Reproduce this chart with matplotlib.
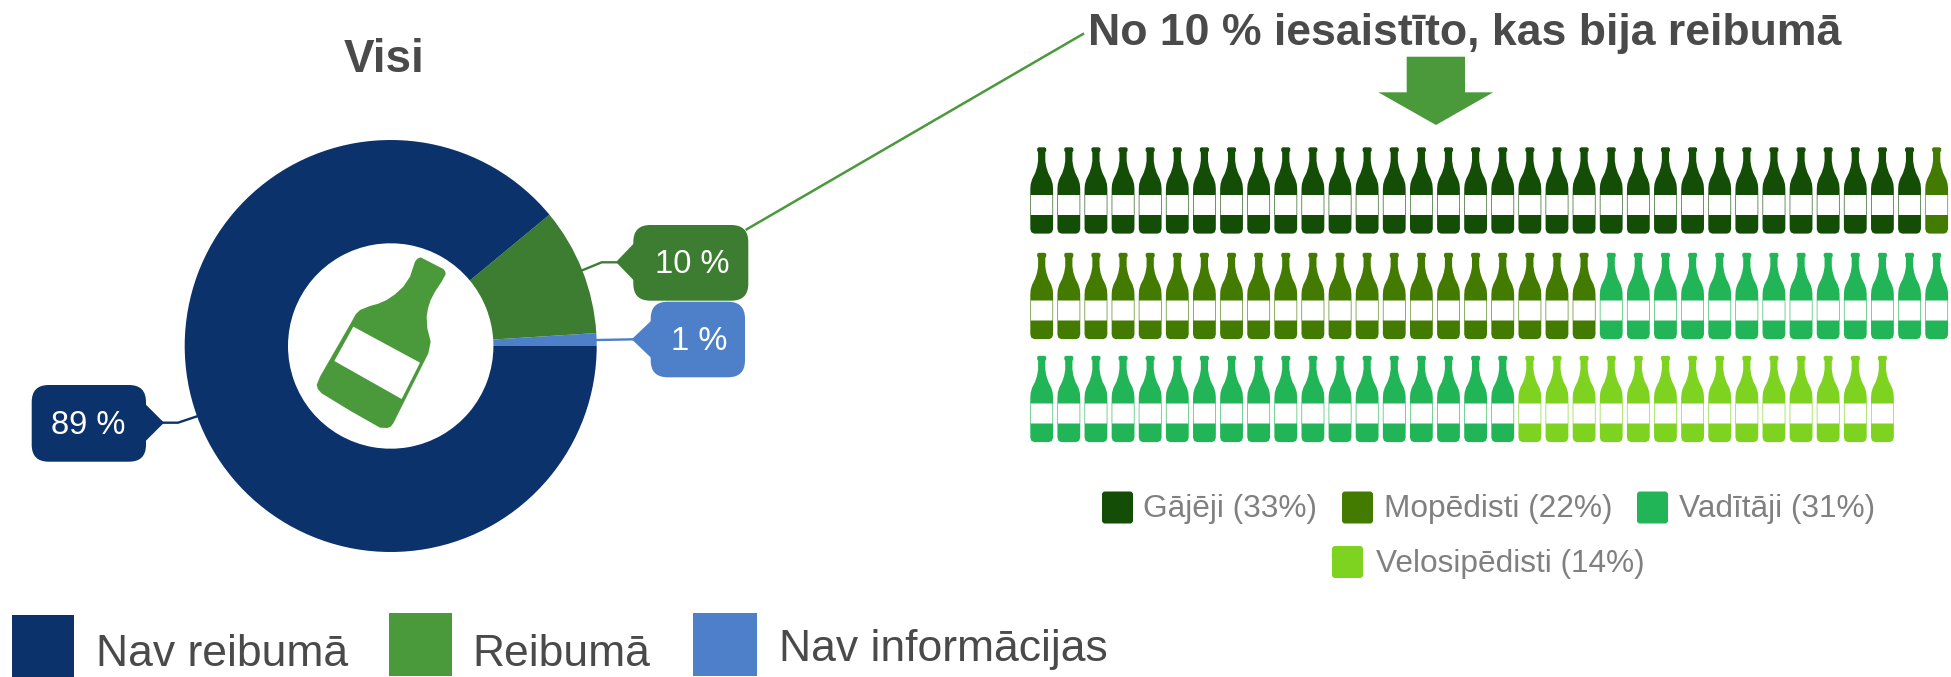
import matplotlib
matplotlib.use("Agg")
import matplotlib.pyplot as plt
import numpy as np
from matplotlib.patches import FancyBboxPatch, PathPatch, Polygon
from matplotlib.path import Path

plt.rcParams["font.family"] = ["Liberation Sans", "DejaVu Sans"]

# donut
slice_names = ["Nav informācijas", "Reibumā", "Nav reibumā"]
slice_values = [1, 10, 89]
slice_labels = ["1 %", "10 %", "89 %"]

# bottles
group_names = ["Gājēji", "Mopēdisti", "Vadītāji", "Velosipēdisti"]
group_values = [33, 22, 31, 14]
group_colors = ["#134D06", "#437A00", "#22B557", "#7ED321"]

NAVY = "#0B326B"
GREEN = "#4A9A3C"
DARK_GREEN = "#3D7D32"
BLUE = "#4E7FC9"
GREY = "#4A4A4A"
LEG_GREY = "#808080"

BOTTLES_PER_ROW = 34
ROW_TOPS = [147, 252.5, 355.5]
BOTTLE_X0 = 1041.7
BOTTLE_DX = 27.12


def bottle_path(x, top):
    """One small bottle with the label cut out, x = centre, top = cap top (px)."""
    right = [
        (3.0, 0.3), (4.4, 1.2), (4.6, 3.5), (3.6, 5.5), (3.6, 14), (4.6, 20),
        (6.5, 26), (9.5, 32), (11, 37), (11.4, 42), (11.4, 82), (10.3, 85.3),
        (7.5, 86.6),
    ]
    left = [(-px, py) for px, py in reversed(right)]
    body = right + left + [right[0]]
    hole = [(-10.8, 48), (-10.8, 68), (10.8, 68), (10.8, 48), (-10.8, 48)]
    verts = body + hole
    codes = (
        [Path.MOVETO] + [Path.LINETO] * (len(body) - 2) + [Path.CLOSEPOLY]
        + [Path.MOVETO] + [Path.LINETO] * 3 + [Path.CLOSEPOLY]
    )
    return Path(np.array(verts) + [x, top], codes)


def callout(ax, x0, y0, x1, y1, tip, color, text, side):
    """Rounded label box with a pointed notch towards tip."""
    box = FancyBboxPatch(
        (x0 + 12, y0 + 12), x1 - x0 - 24, y1 - y0 - 24,
        boxstyle="round,pad=12,rounding_size=17", fc=color, ec="none", zorder=5,
    )
    ax.add_patch(box)
    edge = x0 if side == "left" else x1
    sign = 1 if side == "left" else -1
    ax.add_patch(Polygon(
        [tip, (edge + sign * 2, tip[1] - 20), (edge + sign * 2, tip[1] + 20)],
        fc=color, ec="none", zorder=5,
    ))
    ax.text((x0 + x1) / 2 + sign * 1, (y0 + y1) / 2 + 2, text, color="white", fontsize=23.5,
            ha="center", va="center", zorder=6)


fig = plt.figure(figsize=(19.51, 6.77), dpi=100)
ax = fig.add_axes([0, 0, 1, 1])

# ── donut ──
colors = [BLUE, DARK_GREEN, NAVY]
ax.pie(slice_values, colors=colors, startangle=0, counterclock=False,
       center=(390.7, 346), radius=206,
       wedgeprops=dict(width=103.3, linewidth=0))
ax.set_xlim(0, 1951)
ax.set_ylim(677, 0)
ax.set_aspect("auto")
ax.axis("off")

big_outline = np.array([
    (345, 50), (352, 41), (362, 37), (430, 72), (436, 80), (437, 88), (425, 110),
    (405, 140), (392, 165), (384, 190), (380, 215), (382, 250), (392, 290),
    (385, 325), (280, 535), (272, 545), (262, 549), (240, 548), (150, 497),
    (65, 445), (54, 433), (50, 420), (60, 395), (155, 230), (167, 208), (180, 195),
    (210, 183), (235, 176), (260, 165), (285, 148), (310, 125), (330, 95),
]) / 3 + [300, 245]
big_label = np.array([(160, 245), (360, 353), (305, 462), (103, 348)]) / 3 + [300, 245]
ax.add_patch(Polygon(big_outline, closed=True, fc=GREEN, ec="none", zorder=4))
ax.add_patch(Polygon(big_label, closed=True, fc="white", ec="none", zorder=4.5))

# leader lines
ax.plot([583, 601.7, 620], [270, 262.3, 262.3], color=DARK_GREEN, lw=1.7, zorder=3)
ax.plot([597, 635], [340, 339.3], color=BLUE, lw=1.7, zorder=3)
ax.plot([160, 178, 198], [422.7, 422.7, 416], color=NAVY, lw=1.7, zorder=3)
ax.plot([746.7, 1083], [229.3, 34], color=GREEN, lw=1.8, zorder=3)

callout(ax, 633.3, 225, 748.3, 300.7, (616, 262), DARK_GREEN, slice_labels[1], "left")
callout(ax, 650.7, 301.7, 745, 377.3, (631.7, 339.3), BLUE, slice_labels[0], "left")
callout(ax, 31.7, 385, 146, 461.7, (164, 422.7), NAVY, slice_labels[2], "right")

# ── titles / arrow ──
ax.text(384, 60, "Visi", color=GREY, fontsize=33, fontweight="bold", ha="center", va="center")
ax.text(1088, 33, "No 10 % iesaistīto, kas bija reibumā", color=GREY, fontsize=32.15,
        fontweight="bold", ha="left", va="center")
ax.add_patch(Polygon(
    [(1406.7, 56.7), (1465, 56.7), (1465, 92.3), (1493.3, 92.3), (1436, 125),
     (1378.3, 92.3), (1406.7, 92.3)], fc=GREEN, ec="none"))

# ── bottles ──
owner = np.repeat(np.arange(len(group_values)), group_values)
for i, g in enumerate(owner):
    row, col = divmod(i, BOTTLES_PER_ROW)
    x = BOTTLE_X0 + col * BOTTLE_DX
    ax.add_patch(PathPatch(bottle_path(x, ROW_TOPS[row]), fc=group_colors[g], ec="none"))

# ── legend of the bottles ──
leg_pos = [(1102, 491.5), (1342, 491.5), (1637, 491.5), (1332, 546)]
text_dx = [41, 42, 42, 44]
for (x, y), dx, name, val, col in zip(leg_pos, text_dx, group_names, group_values, group_colors):
    ax.add_patch(FancyBboxPatch((x + 2, y + 2), 27, 28, boxstyle="round,pad=2,rounding_size=3",
                                fc=col, ec="none"))
    ax.text(x + dx, y + 18, f"{name} ({val}%)", color=LEG_GREY, fontsize=22.8, va="center")

# ── legend of the donut ──
legend_x = [(12, 74, 615, 677, 96, 655), (388.5, 452, 613, 676, 472, 655), (693, 757, 613, 676, 779, 650)]
legend_colors = [NAVY, GREEN, BLUE]
legend_names = [slice_names[2], slice_names[1], slice_names[0]]
for (x0, x1, y0, y1, tx, ty), col, name in zip(legend_x, legend_colors, legend_names):
    ax.fill([x0, x1, x1, x0], [y0, y0, y1, y1], color=col, lw=0)
    ax.text(tx, ty, name, color=GREY, fontsize=32, va="center")

fig.savefig("out.png", dpi=100)
